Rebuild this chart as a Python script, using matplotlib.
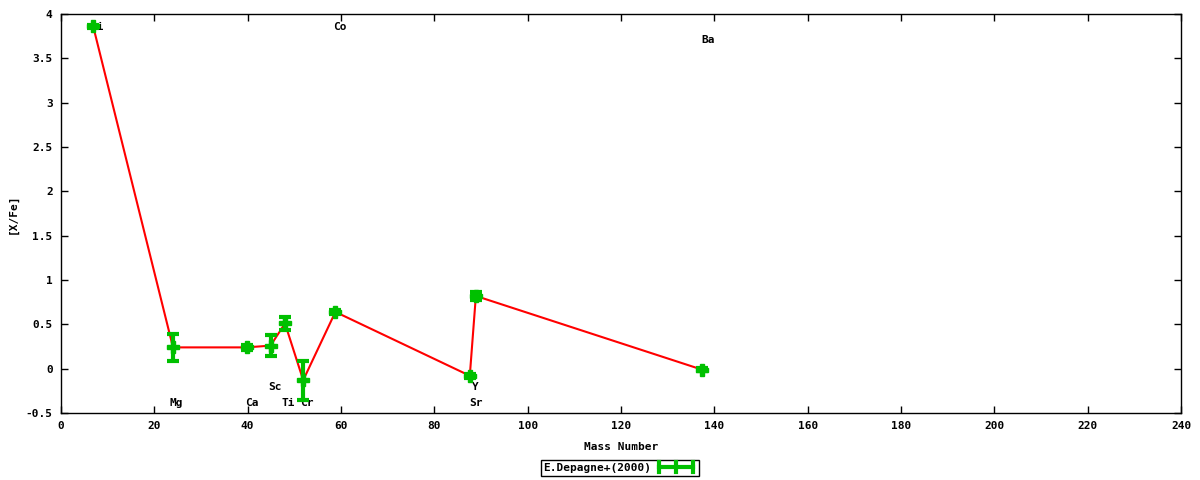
import matplotlib
matplotlib.use("Agg")
import matplotlib.pyplot as plt
from matplotlib.lines import Line2D
from matplotlib.patches import Rectangle

# element abundances (mass number, [X/Fe], error)
elements = ["Li", "Mg", "Ca", "Sc", "Ti", "Cr", "Co", "Sr", "Y", "Ba"]
mass = [6.9, 24.0, 39.8, 44.9, 48.0, 51.9, 58.8, 87.6, 88.9, 137.3]
xfe = [3.86, 0.24, 0.24, 0.26, 0.51, -0.13, 0.64, -0.08, 0.82, -0.01]
err = [0.02, 0.15, 0.03, 0.12, 0.07, 0.22, 0.02, 0.02, 0.045, 0.02]

# element label positions (x, y)
label_x = [7.9, 24.6, 40.9, 45.8, 48.8, 52.7, 59.8, 88.9, 88.9, 138.6]
label_y = [3.85, -0.39, -0.39, -0.21, -0.39, -0.39, 3.85, -0.39, -0.21, 3.71]

font = "DejaVu Sans Mono"
green = "#00c000"
fs = 8

fig = plt.figure(figsize=(12, 4.8), dpi=100)
ax = fig.add_axes([61 / 1200, 1 - 413 / 480, 1120 / 1200, 399 / 480])

ax.plot(mass, xfe, color="red", lw=1.5, zorder=2)
ax.errorbar(mass, xfe, yerr=err, fmt="none", ecolor=green, elinewidth=3,
            capsize=4, capthick=3, zorder=3)
ax.plot(mass, xfe, linestyle="none", marker="P", markersize=9,
        color=green, zorder=4)

for name, lx, ly in zip(elements, label_x, label_y):
    ax.text(lx, ly, name, ha="center", va="center", fontsize=fs,
            family=font, fontweight="bold", zorder=1)

ax.set_xlim(0, 240)
ax.set_ylim(-0.5, 4)
ax.set_xticks(range(0, 241, 20))
yt = [-0.5, 0, 0.5, 1, 1.5, 2, 2.5, 3, 3.5, 4]
ax.set_yticks(yt)
ax.set_yticklabels([("%g" % v) for v in yt])
ax.tick_params(direction="in", top=True, right=True, length=5, width=1,
               labelsize=fs, pad=6)
for lab in ax.get_xticklabels() + ax.get_yticklabels():
    lab.set_family(font)
    lab.set_fontweight("bold")
for s in ax.spines.values():
    s.set_linewidth(1)

ax.set_xlabel("Mass Number", family=font, fontweight="bold", fontsize=fs)
ax.set_ylabel("[X/Fe]", family=font, fontweight="bold", fontsize=fs)
ax.xaxis.set_label_coords(0.5, (413 - 447) / 399)
ax.yaxis.set_label_coords((13 - 61) / 1120, 0.5)
ax.xaxis.label.set_va("center")
ax.yaxis.label.set_va("center")

# gnuplot-style key below the plot
fig.add_artist(Rectangle((541 / 1200, 1 - 476 / 480), 158 / 1200, 16 / 480,
                         transform=fig.transFigure, fill=False, lw=1,
                         edgecolor="black"))
fig.text(543 / 1200, 1 - 468 / 480, "E.Depagne+(2000)", family=font,
         fontweight="bold", fontsize=fs, va="center", ha="left")
ky = 1 - 467 / 480
fig.add_artist(Line2D([659 / 1200, 693 / 1200], [ky, ky], color=green, lw=3,
                      transform=fig.transFigure))
for kx in [659, 676, 693]:
    fig.add_artist(Line2D([kx / 1200, kx / 1200], [ky - 5 / 480, ky + 5 / 480],
                          color=green, lw=3, transform=fig.transFigure))

fig.savefig("out.png", dpi=100)
